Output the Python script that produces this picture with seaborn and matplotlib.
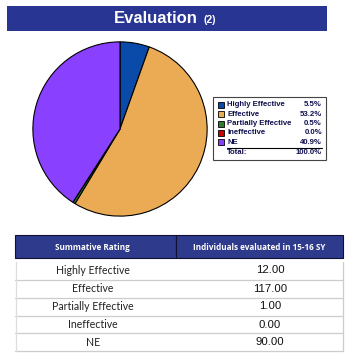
import numpy as np
import seaborn as sns
import matplotlib.pyplot as plt
from matplotlib.patches import Rectangle

categories = ['Highly Effective', 'Effective', 'Partially Effective', 'Ineffective', 'NE']
counts = [12, 117, 1, 0, 90]
colors = ['#0a4aa8', '#ebab55', '#2e7d32', '#cc0000', '#8a40ff']
title = 'Evaluation'
title_note = '(2)'
col_headers = ['Summative Rating', 'Individuals evaluated in 15-16 SY']

sns.set_style('white')
plt.rcParams['font.family'] = ['Liberation Sans', 'DejaVu Sans']

W, H = 357, 359
fig = plt.figure(figsize=(W / 100, H / 100), dpi=100)
fig.patch.set_facecolor('white')

# overlay axes in pixel coordinates
ov = fig.add_axes([0, 0, 1, 1])
ov.set_xlim(0, W)
ov.set_ylim(H, 0)
ov.axis('off')

# title banner
ov.add_patch(Rectangle((7, 6), 320, 25, facecolor='#283593', edgecolor='none'))
ov.text(198, 18.5, title, color='white', fontsize=12, fontweight='bold', ha='right', va='center')
ov.text(203, 20, title_note, color='white', fontsize=7.5, fontweight='bold', ha='left', va='center')

# pie
pax = fig.add_axes([32 / W, 1 - 217 / H, 176 / W, 176 / H])
pax.pie(counts, colors=colors, startangle=90, counterclock=False,
        wedgeprops=dict(edgecolor='black', linewidth=0.8))
pax.set_xlim(-1.01, 1.01)
pax.set_ylim(-1.01, 1.01)

# legend box
total = sum(counts)
pct = [100 * c / total for c in counts]
ov.add_patch(Rectangle((213, 97), 113, 63, facecolor='white', edgecolor='#444444', linewidth=0.8))
row_y = [105, 114.3, 123.6, 132.9, 142.2]
for i, (cat, p) in enumerate(zip(categories, pct)):
    y = row_y[i]
    ov.add_patch(Rectangle((217.5, y - 3), 6, 6, facecolor=colors[i], edgecolor='black', linewidth=0.6))
    ov.text(227, y, cat, fontsize=5.6, fontweight='bold', color='#101050', ha='left', va='center')
    ov.text(322, y, f'{p:.1f}%', fontsize=5.6, fontweight='bold', color='#101050', ha='right', va='center')
ov.plot([227, 322], [147.8, 147.8], color='black', linewidth=0.8)
ov.text(227, 152.5, 'Total:', fontsize=5.6, fontweight='bold', color='#101050', ha='left', va='center')
ov.text(322, 152.5, f'{sum(pct):.1f}%', fontsize=5.6, fontweight='bold', color='#101050', ha='right', va='center')

# table header
ov.add_patch(Rectangle((15, 235), 161, 23, facecolor='#2e3a8c', edgecolor='#111133', linewidth=0.8))
ov.add_patch(Rectangle((176, 235), 167, 23, facecolor='#2e3a8c', edgecolor='#111133', linewidth=0.8))
ov.text(92, 247, col_headers[0], color='white', fontsize=5.9, fontweight='bold',
        ha='center', va='center', family=['Open Sans', 'DejaVu Sans'])
ov.text(259.5, 247, col_headers[1], color='white', fontsize=5.9, fontweight='bold',
        ha='center', va='center', family=['Open Sans', 'DejaVu Sans'])

# table body
lines_y = [262, 280, 298, 316, 333, 351]
text_y = [270, 289, 306, 325, 342]
for y in lines_y[1:]:
    ov.plot([15, 343], [y, y], color='#cccccc', linewidth=0.9)
ov.plot([15.5, 15.5], [262, 351], color='#dddddd', linewidth=0.9)
ov.plot([342.5, 342.5], [262, 351], color='#cccccc', linewidth=0.9)
for i, cat in enumerate(categories):
    ov.text(93, text_y[i], cat, fontsize=7.6, color='#222222', ha='center', va='center',
            family=['Lato', 'DejaVu Sans'])
    ov.text(270, text_y[i], f'{counts[i]:.2f}', fontsize=8.2, color='#111111', ha='center', va='center')

fig.savefig('out.png', dpi=100)
